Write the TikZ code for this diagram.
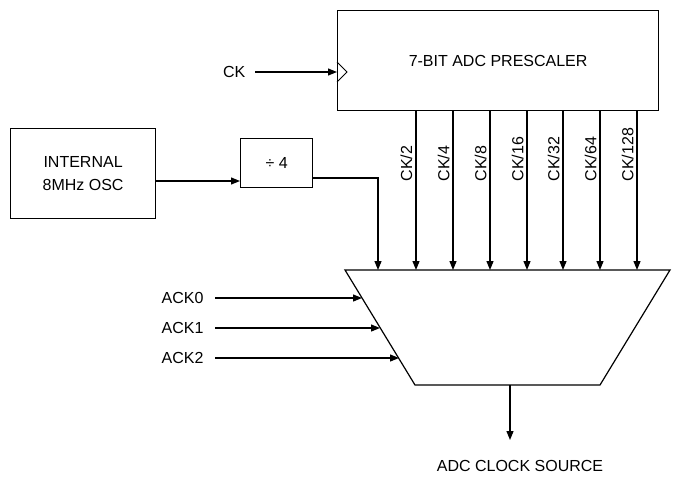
\documentclass[tikz,border=0pt]{standalone}
\usepackage{fontspec}
\setmainfont{Liberation Sans}
\usetikzlibrary{arrows.meta}
\begin{document}
\begin{tikzpicture}[x=1pt,y=-1pt,line width=1.2pt,
  arr/.style={-{Triangle[length=9pt,width=7pt]}},
  txt/.style={font=\fontsize{16}{19}\selectfont,inner sep=0pt}]
\useasboundingbox (0,0) rectangle (693,479);
\node[draw,minimum width=321pt,minimum height=100pt,anchor=north west,txt] (pre) at (337,10) {7-BIT ADC PRESCALER};
\draw[line width=0.8pt] (337,62) -- (347,72) -- (337,82);
\node[txt,anchor=east] (ck) at (246,72) {CK};
\coordinate (cki) at (337,72);
\draw[arr] (ck.east)++(9,0) -- (cki);
\node[draw,minimum width=145pt,minimum height=90pt,anchor=north west,txt,align=center] (osc) at (10,128) {INTERNAL\\[4pt]8MHz OSC};
\node[draw,minimum width=72pt,minimum height=49pt,anchor=north west,txt] (div) at (240,138) {÷ 4};
\draw[arr] (155,181) -- (240,181);
\draw (345,270) -- (670,270) -- (600,385) -- (415,385) -- cycle;
\draw[arr] (312,178) -| (378,270);
\foreach \x/\t in {416/{CK/2},453/{CK/4},490/{CK/8},527/{CK/16},563/{CK/32},600/{CK/64},637/{CK/128}}{
  \draw[arr] (\x,110) -- (\x,270);
  \node[txt,rotate=90,anchor=south west] at (\x-3,182) {\t};
}
\foreach \y/\t/\e in {298/ACK0/362,328/ACK1/380,358/ACK2/399}{
  \node[txt,anchor=east] at (204,\y) {\t};
  \draw[arr] (215,\y) -- (\e,\y);
}
\draw[arr] (510,385) -- (510,440);
\node[txt] (out) at (520,466) {ADC CLOCK SOURCE};
\end{tikzpicture}
\end{document}
